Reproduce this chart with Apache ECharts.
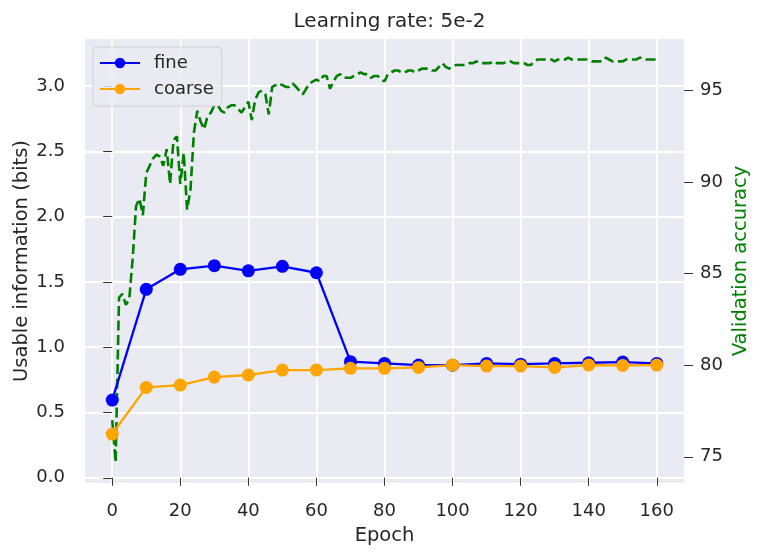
<!DOCTYPE html>
<html>
<head>
<meta charset="utf-8">
<script src="https://cdn.jsdelivr.net/npm/echarts@6/dist/echarts.min.js"></script>
<style>
  html, body { margin: 0; padding: 0; background: #fff; }
  #container { width: 762px; height: 557px; }
</style>
</head>
<body>
<div id="container"></div>
<script>
// epochs where usable information was measured
var infoEpochs = [0, 10, 20, 30, 40, 50, 60, 70, 80, 90, 100, 110, 120, 130, 140, 150, 160];
var fineInfo = [0.595, 1.443, 1.596, 1.624, 1.585, 1.619, 1.570, 0.889, 0.876, 0.863, 0.862, 0.876, 0.870, 0.876, 0.881, 0.886, 0.876];
var coarseInfo = [0.335, 0.692, 0.710, 0.771, 0.787, 0.825, 0.825, 0.838, 0.838, 0.845, 0.863, 0.855, 0.855, 0.845, 0.863, 0.860, 0.863];

// validation accuracy, one value per epoch 0..160
var valAcc = [
    77.0, 74.7, 83.7, 83.9, 83.3, 83.6, 85.8, 88.7, 89.1, 88.2,
    90.5, 90.9, 91.3, 91.5, 91.4, 90.9, 91.8, 89.9, 92.3, 92.5,
    89.9, 91.6, 88.5, 89.6, 92.7, 93.9, 93.3, 92.9, 93.6, 93.8,
    94.2, 94.2, 93.9, 93.8, 94.1, 94.2, 94.2, 94.0, 93.8, 94.1,
    94.4, 93.4, 94.5, 94.9, 95.0, 94.8, 93.7, 95.2, 95.3, 95.4,
    95.3, 95.2, 95.2, 95.4, 95.2, 95.0, 94.8, 95.1, 95.4, 95.5,
    95.6, 95.5, 95.8, 95.8, 95.1, 95.5, 95.8, 95.9, 95.7, 95.7,
    95.7, 95.8, 95.9, 96.0, 95.9, 95.9, 95.7, 95.8, 95.8, 95.6,
    95.5, 95.9, 96.0, 96.1, 96.1, 96.0, 96.0, 96.1, 96.1, 96.0,
    96.1, 96.2, 96.2, 96.2, 96.1, 96.1, 96.3, 96.5, 96.3, 96.2,
    96.3, 96.4, 96.4, 96.4, 96.4, 96.5, 96.5, 96.6, 96.5, 96.5,
    96.5, 96.5, 96.6, 96.5, 96.5, 96.5, 96.6, 96.6, 96.5, 96.5,
    96.5, 96.5, 96.4, 96.4, 96.6, 96.7, 96.7, 96.7, 96.7, 96.7,
    96.6, 96.7, 96.7, 96.7, 96.8, 96.7, 96.7, 96.7, 96.7, 96.7,
    96.7, 96.6, 96.6, 96.6, 96.6, 96.8, 96.7, 96.6, 96.6, 96.6,
    96.6, 96.7, 96.7, 96.7, 96.7, 96.8, 96.8, 96.7, 96.7, 96.7,
    96.7
];

// tick labels
var xTicks = [0, 20, 40, 60, 80, 100, 120, 140, 160];
var leftTicks = [0, 0.5, 1.0, 1.5, 2.0, 2.5, 3.0];
var rightTicks = [75, 80, 85, 90, 95];

var FONT = 'DejaVu Sans';
var TXT = '#262626';

function pairs(xs, ys) {
    var out = [];
    for (var i = 0; i < ys.length; i++) out.push([xs[i], ys[i]]);
    return out;
}
var accEpochs = valAcc.map(function (v, i) { return i; });

var myChart = echarts.init(document.getElementById('container'), null, { renderer: 'canvas' });

var option = {
    animation: false,
    backgroundColor: '#ffffff',
    textStyle: { fontFamily: FONT },
    title: {
        text: 'Learning rate: 5e-2',
        left: 384.5,
        textAlign: 'center',
        top: 7,
        textStyle: { fontFamily: FONT, fontSize: 20, fontWeight: 'normal', color: TXT }
    },
    grid: {
        left: 85, right: 78, top: 39, bottom: 74,
        outerBoundsMode: 'none',
        containLabel: false,
        show: true, backgroundColor: '#EAEAF2', borderWidth: 0
    },
    legend: {
        data: ['fine', 'coarse'],
        orient: 'vertical',
        left: 93, top: 47,
        itemWidth: 40, itemHeight: 13, itemGap: 8,
        padding: [7, 8, 8, 6],
        backgroundColor: 'rgba(234,234,242,0.8)',
        borderColor: '#cfcfd6', borderWidth: 1, borderRadius: 4,
        textStyle: { fontFamily: FONT, fontSize: 18, color: TXT, padding: [0, 0, 0, 9] }
    },
    xAxis: {
        type: 'value',
        min: -8, max: 168,
        name: 'Epoch', nameLocation: 'middle', nameGap: 43, nameMoveOverlap: false,
        nameTextStyle: { fontFamily: FONT, fontSize: 19.5, color: TXT },
        axisLine: { show: false },
        axisTick: { show: true, length: 8, lineStyle: { color: '#333' }, customValues: xTicks },
        axisLabel: { fontFamily: FONT, fontSize: 18, color: TXT, margin: 19, customValues: xTicks },
        splitLine: { show: true, lineStyle: { color: '#ffffff', width: 1.8 } }
    },
    yAxis: [{
        type: 'value',
        min: -0.04, max: 3.36,
        name: 'Usable information (bits)', nameLocation: 'middle', nameGap: 53, nameMoveOverlap: false,
        nameTextStyle: { fontFamily: FONT, fontSize: 19.5, color: TXT },
        axisLine: { show: false },
        axisTick: { show: true, length: 9, lineStyle: { color: '#333' }, customValues: leftTicks },
        axisLabel: {
            fontFamily: FONT, fontSize: 18, color: TXT, margin: 20, customValues: leftTicks,
            formatter: function (v) { return v.toFixed(1); }
        },
        splitLine: { show: true, lineStyle: { color: '#ffffff', width: 1.8 } }
    }, {
        type: 'value',
        min: 73.57, max: 97.82,
        position: 'right',
        name: 'Validation accuracy', nameLocation: 'middle', nameGap: 47, nameMoveOverlap: false,
        nameTextStyle: { fontFamily: FONT, fontSize: 19.5, color: 'green' },
        axisLine: { show: false },
        axisTick: { show: true, length: 9, lineStyle: { color: '#333' }, customValues: rightTicks },
        axisLabel: { fontFamily: FONT, fontSize: 18, color: TXT, margin: 16, customValues: rightTicks },
        splitLine: { show: false }
    }],
    series: [{
        name: 'accuracy',
        type: 'line',
        yAxisIndex: 1,
        data: pairs(accEpochs, valAcc),
        showSymbol: false,
        symbol: 'none',
        lineStyle: { color: 'green', width: 2.6, type: [10, 4.5] },
        z: 1
    }, {
        name: 'fine',
        type: 'line',
        yAxisIndex: 0,
        data: pairs(infoEpochs, fineInfo),
        symbol: 'circle', symbolSize: 13,
        itemStyle: { color: 'blue' },
        lineStyle: { color: 'blue', width: 2.3 },
        z: 3
    }, {
        name: 'coarse',
        type: 'line',
        yAxisIndex: 0,
        data: pairs(infoEpochs, coarseInfo),
        symbol: 'circle', symbolSize: 13,
        itemStyle: { color: 'orange' },
        lineStyle: { color: 'orange', width: 2.3 },
        z: 4
    }]
};

myChart.setOption(option, true);
</script>
</body>
</html>
